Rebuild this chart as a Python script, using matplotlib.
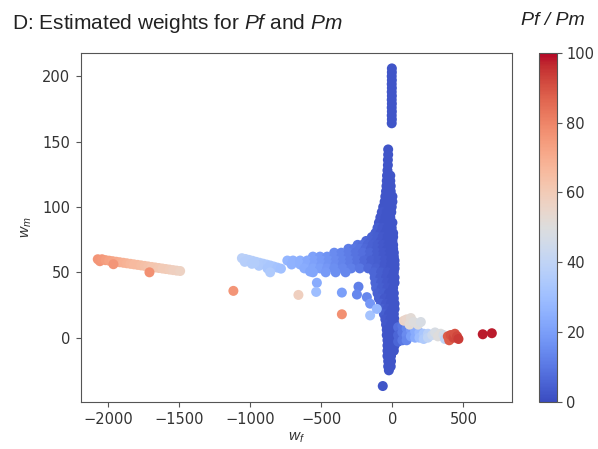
import matplotlib
matplotlib.use("Agg")
import matplotlib.pyplot as plt
import numpy as np

plt.rcParams['mathtext.fontset'] = 'custom'
plt.rcParams['mathtext.rm'] = 'Liberation Sans'
plt.rcParams['mathtext.it'] = 'Liberation Sans:italic'

# ---------------- data ----------------
# dense blue blade: (w_m, [w_f ...], [Pf/Pm ...])
blade_rows = [
    (206, [-4], [2]), (203, [-4], [2]), (200, [-5], [2]), (197, [-4], [2]),
    (194, [-5], [2]), (191, [-4], [2]), (188, [-5], [2]), (185, [-4], [2]),
    (182, [-5], [2]), (179, [-4], [2]), (176, [-5], [2]), (173, [-4], [2]),
    (170, [-5], [2]), (167, [-4], [2]), (164, [-5], [2]),
    (144, [-30], [2]), (140, [-30], [2]), (136, [-32], [2]), (132, [-32], [2]),
    (128, [-35], [2]), (124, [-38, -15], [2, 2]), (120, [-40, -15], [2, 2]),
    (116, [-42, -12], [2, 2]), (112, [-45, -12], [2, 2]),
    (108, [-50, -15, 0], [2, 2, 2]), (104, [-55, -25, 0], [2, 2, 2]),
    (100, [-65, -30, -5], [2, 2, 2]), (96, [-75, -40, -8], [3, 2, 2]),
    (92, [-85, -50, -15], [3, 2, 2]), (88, [-95, -60, -25, 0], [3, 2, 2, 2]),
    (84, [-105, -70, -35, -5], [4, 3, 2, 2]),
    (80, [-120, -85, -50, -20, 5], [4, 3, 2, 2, 2]),
    (77, [-145, -110, -70, -35, 5], [5, 4, 3, 2, 2]),
    (74, [-185, -150, -115, -80, -40, 0], [6, 5, 4, 3, 2, 2]),
    (71, [-245, -210, -175, -140, -105, -70, -30, 5], [9, 8, 6, 5, 4, 3, 2, 2]),
    (68, [-310, -270, -230, -190, -150, -110, -70, -35, 5],
     [11, 10, 9, 7, 5, 4, 3, 2, 2]),
    (65, [-410, -360, -310, -260, -210, -160, -110, -65, -20, 10],
     [15, 13, 11, 9, 8, 6, 4, 3, 2, 2]),
    (62, [-560, -510, -460, -410, -360, -310, -260, -210, -160, -110, -65,
          -20, 10],
     [21, 19, 17, 15, 13, 11, 9, 8, 6, 4, 3, 2, 2]),
    (59, [-740, -700, -650, -600, -550, -500, -450, -400, -350, -300, -250,
          -200, -150, -100, -55, -10, 15],
     [27, 26, 25, 23, 21, 19, 17, 15, 13, 11, 9, 7, 5, 4, 3, 2, 2]),
    (56, [-710, -650, -600, -550, -500, -450, -400, -350, -300, -250, -200,
          -150, -100, -55, -10, 15],
     [26, 25, 23, 21, 19, 17, 15, 13, 11, 9, 7, 5, 4, 3, 2, 2]),
    (53, [-620, -560, -510, -460, -410, -350, -290, -230, -170, -115, -60,
          -15, 15],
     [24, 22, 20, 18, 16, 14, 12, 10, 7, 5, 3, 2, 2]),
    (50, [-560, -470, -400, -330, -130, -80, -35, 10],
     [22, 19, 16, 14, 6, 4, 3, 2]),
    (46, [-125, -85, -45, -5, 15], [6, 4, 3, 2, 2]),
    (42, [-120, -80, -40, 0, 15], [6, 4, 3, 2, 2]),
    (38, [-115, -75, -35, 5], [6, 4, 3, 2]),
    (34, [-105, -65, -25, 10], [5, 4, 2, 2]),
    (30, [-95, -55, -15, 10], [5, 3, 2, 2]),
    (26, [-80, -45, -10, 15], [5, 3, 2, 2]),
    (22, [-70, -35, 0, 15], [4, 3, 2, 2]),
    (18, [-60, -25, 10], [4, 2, 2]),
    (14, [-50, -15, 15], [3, 2, 2]),
    (10, [-45, -10, 20], [3, 2, 2]),
    (6, [-40, -5, 25], [2, 2, 2]),
    (2, [-40, -5, 25], [2, 2, 2]),
    (-2, [-35, 0, 20], [2, 2, 2]),
    (-6, [-35, -5, 15], [2, 2, 2]),
    (-10, [-35, -10, 10], [2, 2, 2]),
    (-14, [-35, -10], [2, 2]),
    (-18, [-30, -10], [2, 2]),
    (-22, [-30, -12], [2, 2]),
    (-25, [-25], [2]),
    (-37, [-68], [2]),
]

# light blue arm near -1000
lb_wf = [-1060, -1035, -1010, -985, -960, -935, -910, -885, -860, -835, -810,
         -785, -1040, -990, -940, -880, -861, -970]
lb_wm = [60.8, 60.2, 59.5, 58.8, 58.0, 57.3, 56.6, 55.9, 55.2, 54.4, 53.6,
         52.8, 58.0, 56.5, 55.0, 53.0, 50.0, 57.0]
lb_r = [38, 38, 37, 37, 36, 36, 35, 34, 33, 33, 32, 31, 37, 36, 35, 33, 35, 36]

# orange arm near -2000
or_wf = [-2075, -2060, -2045, -2020, -1995, -1970, -1945, -1920, -1895, -1870,
         -1845, -1820, -1795, -1770, -1745, -1720, -1695, -1670, -1645, -1620,
         -1595, -1570, -1545, -1520, -1495, -1965, -1711]
or_wm = [60.0, 58.5, 60.0, 59.3, 58.9, 58.5, 58.1, 57.7, 57.3, 56.9,
         56.5, 56.1, 55.7, 55.3, 54.9, 54.5, 54.1, 53.7, 53.3, 52.9,
         52.5, 52.1, 51.7, 51.3, 51.0, 56.2, 50.0]
or_r = [76, 76, 75, 74, 73, 72, 71, 70, 69, 68, 67, 66, 66, 65, 64, 63, 62, 62,
        61, 60, 60, 59, 58, 58, 57, 76, 77]

# scattered single points
sc_wf = [-532, -537, -356, -239, -250, -180, -157, -157, -110, -580,
         -356, -662, -1120]
sc_wm = [42, 35, 34.5, 39, 33, 31, 26, 17, 22, 50.6, 17.9, 32.7, 35.8]
sc_r = [24, 30, 20, 12, 14, 14, 18, 32, 28, 22, 77, 58, 76]

# right arm, grey cluster and red points
ra_wf = [40, 40, 40, 70, 70, 70, 100, 100, 100, 130, 130, 160, 160, 190, 190,
         220, 220, 250, 250, 280, 300, 320, 340, 360, 370,
         80, 100, 120, 130, 150, 180, 200,
         390, 400, 410, 430, 440, 455, 465, 636, 700]
ra_wm = [8, 2, -3, 9, 4, -2, 7, 2, -2, 6, 1, 5, 0, 4, 0,
         3, -1, 3, 0, 2, 4, 1, 3, 2, -1,
         13, 14, 10, 15, 12, 10, 12,
         1, -2, 2, 0, 3, 1, -1, 2.6, 3.4]
ra_r = [8, 6, 6, 10, 10, 10, 14, 15, 14, 18, 20, 24, 24, 28, 30,
        33, 35, 38, 40, 44, 48, 50, 50, 46, 40,
        56, 55, 52, 52, 50, 50, 48,
        88, 88, 90, 92, 90, 92, 94, 98, 98]

x_ticks = [-2000, -1500, -1000, -500, 0, 500]
y_ticks = [0, 50, 100, 150, 200]
cbar_ticks = [0, 20, 40, 60, 80, 100]

# ---------------- figure ----------------
fig = plt.figure(figsize=(5.98, 4.49), dpi=100)
ax = fig.add_axes([0.135, 0.1053, 0.7207, 0.7773])
cax = fig.add_axes([0.9013, 0.1047, 0.0296, 0.7779])

bw, bm, br = [], [], []
for wm, wfs, rs in blade_rows:
    for wf, r in zip(wfs, rs):
        bw.append(wf)
        bm.append(wm)
        br.append(r)

kw = dict(cmap="coolwarm", vmin=0, vmax=100, s=52, linewidths=0)
sc = ax.scatter(bw, bm, c=br, **kw)
ax.scatter(lb_wf, lb_wm, c=lb_r, **kw)
ax.scatter(or_wf, or_wm, c=or_r, **kw)
ax.scatter(sc_wf, sc_wm, c=sc_r, **kw)
ax.scatter(ra_wf, ra_wm, c=ra_r, **kw)

ax.set_xlim(-2195, 840)
ax.set_ylim(-49, 218)
ax.set_xticks(x_ticks)
ax.set_yticks(y_ticks)

tick_col = "#333333"
spine_col = "#555555"
ax.tick_params(labelsize=10.5, colors=spine_col, labelcolor=tick_col, pad=4)
for s in ax.spines.values():
    s.set_color(spine_col)

ax.set_xlabel(r"$w_f$", fontsize=11, color=tick_col, labelpad=2)
ax.set_ylabel(r"$w_m$", fontsize=11, color=tick_col, labelpad=6)

cb = fig.colorbar(sc, cax=cax, ticks=cbar_ticks)
cb.outline.set_edgecolor(spine_col)
cb.ax.tick_params(labelsize=10.5, colors=spine_col, labelcolor=tick_col)

fig.text(0.02, 0.948, r"D: Estimated weights for $Pf$ and $Pm$",
         family="Liberation Sans", fontsize=15, color="#222222", va="center")
fig.text(0.978, 0.955, "Pf / Pm", family="Liberation Sans", style="italic",
         fontsize=14, color="#222222", ha="right", va="center")

fig.savefig("out.png", dpi=100)
